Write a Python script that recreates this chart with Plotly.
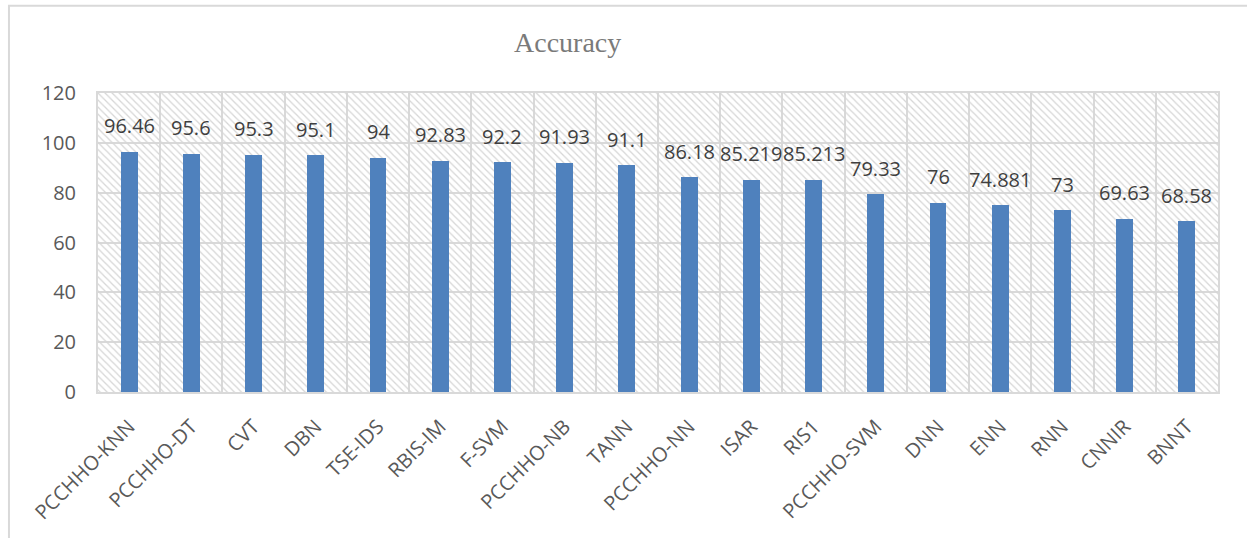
import plotly.graph_objects as go

categories = ["PCCHHO-KNN", "PCCHHO-DT", "CVT", "DBN", "TSE-IDS", "RBIS-IM", "F-SVM",
              "PCCHHO-NB", "TANN", "PCCHHO-NN", "ISAR", "RIS1", "PCCHHO-SVM", "DNN",
              "ENN", "RNN", "CNNIR", "BNNT"]
accuracy = [96.46, 95.6, 95.3, 95.1, 94, 92.83, 92.2, 91.93, 91.1, 86.18, 85.219,
            85.213, 79.33, 76, 74.881, 73, 69.63, 68.58]
y_ticks = [0, 20, 40, 60, 80, 100, 120]
title_text = "Accuracy"

y_max = y_ticks[-1]
GRID = "#d9d9d9"

fig = go.Figure()

# hatched plot-area background
fig.add_trace(go.Bar(
    x=categories, y=[y_max] * len(categories), width=1,
    marker=dict(color="rgba(0,0,0,0)", line=dict(width=0),
                pattern=dict(shape="\\", fgcolor="#d6d6d6", bgcolor="rgba(0,0,0,0)",
                             size=5, solidity=0.25, fillmode="replace")),
    hoverinfo="skip", showlegend=False,
))

fig.add_trace(go.Bar(
    x=categories, y=accuracy, width=0.27,
    marker=dict(color="#4f81bd", line=dict(width=0)),
    showlegend=False,
))

for c, v in zip(categories, accuracy):
    fig.add_annotation(x=c, y=v, text=f"{v:g}", showarrow=False,
                       yanchor="middle", yshift=26,
                       font=dict(family="Open Sans", size=20, color="#3f3f3f"))

fig.add_annotation(xref="paper", yref="paper", x=0.419, y=1.17, text=title_text,
                   showarrow=False, xanchor="center", yanchor="middle",
                   font=dict(family="Liberation Serif", size=28, color="#7a7a7a"))

# outer chart border
fig.add_shape(type="rect", xref="paper", yref="paper",
              x0=-0.0795, y0=-0.7, x1=1.2, y1=1.292,
              line=dict(color=GRID, width=2), fillcolor="rgba(0,0,0,0)", layer="below")

fig.update_layout(
    width=1247, height=538,
    margin=dict(l=98, r=29, t=93, b=146, autoexpand=False),
    paper_bgcolor="white", plot_bgcolor="white",
    barmode="overlay", bargap=0,
    xaxis=dict(type="category", tickson="boundaries", showgrid=True, gridcolor=GRID,
               gridwidth=2, showline=True, mirror=True, linecolor=GRID, linewidth=2,
               ticks="", tickangle=-45, ticklabelstandoff=13, automargin=False,
               tickfont=dict(family="Open Sans", size=20, color="#595959"),
               range=[-0.5, len(categories) - 0.5]),
    yaxis=dict(range=[0, y_max], tickvals=y_ticks, showgrid=True, gridcolor=GRID,
               gridwidth=2, showline=True, mirror=True, linecolor=GRID, linewidth=2,
               zeroline=False, ticks="", ticklabelstandoff=16, automargin=False,
               tickfont=dict(family="Open Sans", size=20, color="#595959")),
)

fig.write_html("out.html")
